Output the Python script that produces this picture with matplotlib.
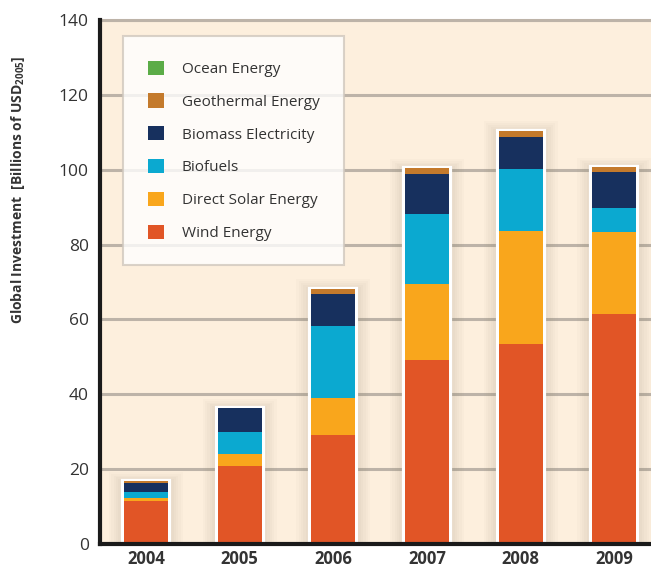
import matplotlib
matplotlib.use("Agg")

import matplotlib.pyplot as plt
from matplotlib.patches import Patch
import numpy as np

# Daten
years = ["2004", "2005", "2006", "2007", "2008", "2009"]
wind = [11.5, 20.8, 29.1, 49.2, 53.4, 61.4]
solar = [0.8, 3.2, 9.9, 20.3, 30.2, 22.0]
biofuels = [1.6, 5.9, 19.2, 18.7, 16.6, 6.4]
biomass = [2.4, 6.4, 8.6, 10.7, 8.5, 9.6]
geothermal = [0.5, 0.0, 1.3, 1.5, 1.7, 1.3]
ocean = [0.0, 0.0, 0.1, 0.0, 0.0, 0.0]

series = [
    ("Wind Energy", wind, "#E15526"),
    ("Direct Solar Energy", solar, "#F9A61C"),
    ("Biofuels", biofuels, "#0BA9D0"),
    ("Biomass Electricity", biomass, "#17305E"),
    ("Geothermal Energy", geothermal, "#C47A2C"),
    ("Ocean Energy", ocean, "#5BAC47"),
]

plt.rcParams["font.family"] = ["Open Sans", "DejaVu Sans"]
plt.rcParams["mathtext.fontset"] = "custom"
plt.rcParams["mathtext.rm"] = "Open Sans"
plt.rcParams["mathtext.bf"] = "Open Sans:bold"

fig = plt.figure(figsize=(6.51, 5.70), dpi=100)
ax = fig.add_axes([0.1536, 0.0456, 0.8464, 0.9193])
ax.set_facecolor("#FDEFDD")

x = np.arange(len(years))
width = 0.49
totals = np.sum([s[1] for s in series], axis=0)

# weicher Schatten hinter den Balken
for k in range(6):
    ax.bar(x, totals + 0.5 * k, width=width + 0.05 * (k + 1), color="#8a7560",
           alpha=0.03, linewidth=0, zorder=2)

# Rahmen um die ganzen Balken (weiss)
ax.bar(x, totals, width=width, color="none", edgecolor="white", linewidth=3, zorder=3)

bottom = np.zeros(len(years))
for name, vals, col in series:
    ax.bar(x, vals, width=width - 0.02, bottom=bottom, color=col, linewidth=0, zorder=4)
    bottom += np.array(vals)

# Achsen
ax.set_ylim(0, 140)
ax.set_xlim(-0.49, 5.39)
ax.set_yticks(range(0, 141, 20))
ax.yaxis.grid(True, color="#BDB3A8", linewidth=2.2)
ax.set_axisbelow(True)
ax.axhline(140, color="#BDB3A8", linewidth=2.2, clip_on=False, zorder=1)

for side in ["top", "right"]:
    ax.spines[side].set_visible(False)
ax.spines["left"].set_linewidth(3)
ax.spines["bottom"].set_linewidth(3)
ax.spines["left"].set_color("#1a1a1a")
ax.spines["bottom"].set_color("#1a1a1a")
ax.spines["left"].set_zorder(6)
ax.spines["bottom"].set_zorder(6)

ax.set_xticks(x)
ax.set_xticklabels(years, fontsize=12, fontweight="bold", color="#333333")
ax.tick_params(axis="both", length=0)
ax.tick_params(axis="y", labelsize=12.5, labelcolor="#333333", pad=8)
ax.tick_params(axis="x", pad=4)

ax.set_ylabel(r"Global Investment  [Billions of USD$_{\mathbf{2005}}$]",
              fontsize=10, fontweight="bold", color="#333333")
ax.yaxis.set_label_coords(-0.133, 0.676)

# Legende
handles = [Patch(facecolor=col, edgecolor="none", label=name) for name, vals, col in reversed(series)]
leg = ax.legend(handles=handles, loc="upper left", bbox_to_anchor=(0.042, 0.969),
                fontsize=11, frameon=True, fancybox=False, handlelength=1.05,
                handleheight=1.05, handletextpad=1.2, labelspacing=1.08,
                borderpad=1.6, borderaxespad=0)
leg.get_frame().set_facecolor("white")
leg.get_frame().set_edgecolor("#D0C8BE")
leg.get_frame().set_linewidth(1.5)
leg.set_zorder(10)
for t in leg.get_texts():
    t.set_color("#333333")

plt.savefig("out.png", dpi=100)
plt.close()
